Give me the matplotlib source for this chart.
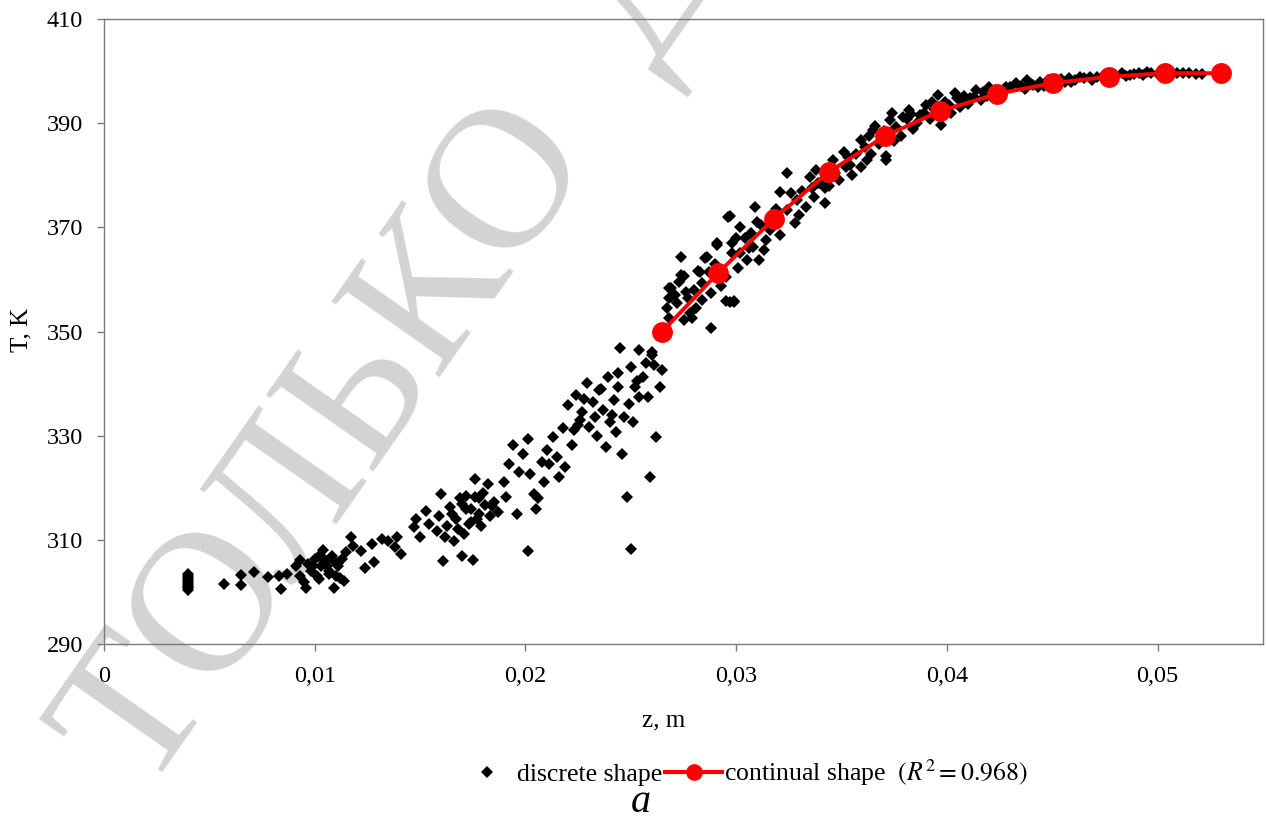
import matplotlib
matplotlib.use("Agg")
import matplotlib.pyplot as plt
from matplotlib.lines import Line2D
from matplotlib.ticker import FuncFormatter, MultipleLocator

plt.rcParams['font.family'] = ['Liberation Serif', 'DejaVu Serif']
plt.rcParams['mathtext.fontset'] = 'stix'

# discrete shape (z, m ; T, K)
z_disc = [
    0.0040, 0.0040, 0.0040, 0.0040, 0.0040, 0.0040, 0.0040, 0.0040, 0.0040, 0.0040,
    0.0057, 0.0065, 0.0065, 0.0071, 0.0078, 0.0083, 0.0084, 0.0087, 0.0096,
    0.0091, 0.0093, 0.0097, 0.0098, 0.0100, 0.0101, 0.0103, 0.0104, 0.0105, 0.0107,
    0.0108, 0.0109, 0.0110, 0.0111, 0.0113, 0.0114, 0.0093, 0.0099, 0.0102, 0.0112,
    0.0115, 0.0117, 0.0118, 0.0122, 0.0124, 0.0127, 0.0128, 0.0132, 0.0135, 0.0138,
    0.0141, 0.0139, 0.0147, 0.0148, 0.0150, 0.0153, 0.0154, 0.0158, 0.0159, 0.0160,
    0.0161, 0.0163, 0.0164, 0.0166, 0.0167, 0.0169, 0.0170, 0.0171, 0.0172, 0.0173,
    0.0175, 0.0176, 0.0176, 0.0178, 0.0179, 0.0181, 0.0182, 0.0183, 0.0185, 0.0187,
    0.0190, 0.0191, 0.0192, 0.0194, 0.0196, 0.0197, 0.0199, 0.0201, 0.0201, 0.0202,
    0.0204, 0.0205, 0.0206, 0.0208, 0.0209, 0.0210, 0.0213, 0.0215, 0.0216, 0.0218,
    0.0219, 0.0220, 0.0222, 0.0224, 0.0225, 0.0227, 0.0229, 0.0230, 0.0232, 0.0233,
    0.0235, 0.0237, 0.0238, 0.0239, 0.0240, 0.0242, 0.0243, 0.0244, 0.0245, 0.0246,
    0.0247, 0.0248, 0.0250, 0.0250, 0.0251, 0.0252, 0.0254, 0.0254, 0.0256, 0.0258,
    0.0259, 0.0260, 0.0261, 0.0262, 0.0264, 0.0265,
    0.0268, 0.0268, 0.0269, 0.0272, 0.0274, 0.0275, 0.0277, 0.0279, 0.0281, 0.0282,
    0.0284, 0.0285, 0.0288, 0.0288, 0.0291, 0.0293, 0.0295, 0.0297, 0.0298, 0.0299,
    0.0300, 0.0301,
    0.0274, 0.0268, 0.0269, 0.0267, 0.0275, 0.0260, 0.0286, 0.0291, 0.0283, 0.0296,
    0.0302, 0.0309, 0.0310, 0.0298, 0.0302, 0.0305, 0.0311, 0.0308, 0.0295, 0.0297,
    0.0299, 0.0284, 0.0278, 0.0276, 0.0314, 0.0313, 0.0321, 0.0324, 0.0321, 0.0324,
    0.0329, 0.0330, 0.0328, 0.0333, 0.0335, 0.0337, 0.0342, 0.0342, 0.0340, 0.0349,
    0.0355, 0.0359, 0.0354, 0.0371,
    0.0316, 0.0318, 0.0326, 0.0331, 0.0338, 0.0344, 0.0346, 0.0347, 0.0351, 0.0352,
    0.0357, 0.0361, 0.0363, 0.0364, 0.0366,
    0.0359, 0.0362, 0.0365, 0.0371, 0.0373, 0.0374, 0.0379, 0.0382, 0.0386, 0.0389,
    0.0396, 0.0397, 0.0401, 0.0404, 0.0406, 0.0411, 0.0414, 0.0416, 0.0420, 0.0428,
    0.0433, 0.0438, 0.0441, 0.0444, 0.0458, 0.0463, 0.0468, 0.0469, 0.0483, 0.0487,
    0.0491, 0.0495, 0.0509, 0.0512, 0.0515,
    0.0368, 0.0370, 0.0376, 0.0378, 0.0381, 0.0384, 0.0387, 0.0390, 0.0392, 0.0394,
    0.0399, 0.0402, 0.0405, 0.0408, 0.0410, 0.0413, 0.0417, 0.0419, 0.0423, 0.0425,
    0.0427, 0.0430, 0.0435, 0.0437, 0.0440, 0.0446, 0.0448, 0.0451, 0.0454, 0.0456,
    0.0461, 0.0465, 0.0471, 0.0474, 0.0478, 0.0480, 0.0485, 0.0489, 0.0493, 0.0497,
    0.0500, 0.0503, 0.0506, 0.0518, 0.0521,
    # extra points in the dense parts of the cloud
    0.0095, 0.0102, 0.0106, 0.0109, 0.0165, 0.0168, 0.0172, 0.0174, 0.0177, 0.0180,
    0.0223, 0.0228, 0.0234, 0.0241, 0.0249, 0.0253, 0.0271, 0.0280, 0.0290, 0.0304,
    0.0307, 0.0319, 0.0336, 0.0353, 0.0383, 0.0393, 0.0407, 0.0421, 0.0443, 0.0459,
    0.0104, 0.0107, 0.0111, 0.0162, 0.0170, 0.0174, 0.0178, 0.0184, 0.0211, 0.0226,
    0.0236, 0.0244, 0.0257, 0.0273, 0.0287, 0.0306, 0.0312, 0.0339, 0.0375, 0.0398,
]
T_disc = [
    300.3, 300.7, 301.1, 301.5, 301.9, 302.3, 302.7, 303.1, 303.5, 300.9,
    301.6, 303.3, 301.3, 303.8, 302.8, 303.0, 300.5, 303.5, 300.7,
    304.9, 306.1, 305.4, 304.0, 306.4, 303.0, 304.9, 308.0, 305.9, 304.0,
    306.9, 300.7, 303.0, 304.9, 306.4, 302.1, 303.0, 304.9, 306.9, 302.6,
    307.6, 310.6, 308.9, 307.8, 304.6, 309.2, 305.7, 310.2, 309.7, 308.6,
    307.3, 310.6, 312.4, 314.0, 310.6, 315.6, 313.1, 311.6, 314.5, 318.8,
    305.9, 312.6, 316.4, 309.7, 314.0, 318.0, 306.9, 311.1, 315.9, 313.1,
    306.1, 321.6, 318.3, 315.0, 312.6, 316.6, 320.7, 314.5, 317.3, 315.4,
    321.2, 318.3, 324.5, 328.3, 315.0, 323.1, 326.4, 307.8, 329.3, 322.6,
    318.8, 315.9, 318.0, 325.0, 321.2, 327.3, 329.7, 325.9, 322.1, 331.5,
    324.0, 335.9, 328.3, 337.8, 332.1, 334.5, 340.2, 331.6, 336.4, 333.5,
    338.8, 335.0, 327.8, 341.2, 332.6, 336.9, 330.7, 339.3, 346.9, 326.4,
    333.5, 318.3, 308.3, 343.1, 332.6, 339.3, 346.4, 337.4, 341.2, 337.4,
    322.1, 345.5, 343.6, 329.7, 339.3, 342.6,
    352.6, 356.4, 358.3, 355.5, 364.3, 360.7, 356.4, 352.6, 354.5, 361.7,
    359.3, 364.1, 357.4, 350.7, 366.9, 358.8, 355.9, 372.2, 365.0, 355.9,
    367.9, 362.1,
    360.8, 358.3, 356.7, 354.5, 352.2, 346.0, 364.4, 366.6, 361.5, 372.0,
    370.1, 374.0, 371.1, 367.0, 365.1, 363.7, 363.7, 366.3, 360.5, 355.7,
    355.7, 356.0, 353.5, 357.6, 367.6, 365.6, 368.5, 373.3, 376.8, 380.4,
    375.2, 372.4, 370.8, 374.0, 379.7, 375.9, 374.6, 377.5, 378.5, 379.1,
    380.0, 381.6, 382.0, 382.9,
    369.5, 372.5, 376.5, 377.0, 381.0, 378.0, 383.0, 380.5, 384.5, 381.5,
    384.0, 385.5, 387.5, 384.0, 389.5,
    386.8, 382.9, 388.7, 383.6, 390.6, 392.0, 391.2, 392.5, 390.0, 392.0,
    395.4, 389.6, 393.5, 395.8, 393.2, 394.8, 396.4, 394.5, 397.0, 397.0,
    397.7, 398.3, 397.3, 398.0, 398.6, 398.9, 398.9, 398.3, 399.6, 399.2,
    399.6, 399.9, 399.6, 399.6, 399.6,
    386.0, 388.5, 389.3, 387.5, 390.8, 388.8, 391.5, 393.5, 390.8, 392.8,
    394.0, 392.0, 394.8, 395.2, 393.6, 395.0, 396.0, 395.3, 396.3, 395.2,
    396.6, 396.9, 397.2, 396.5, 397.6, 397.2, 398.2, 397.8, 398.4, 397.9,
    398.3, 398.6, 398.8, 399.1, 399.0, 399.3, 399.1, 399.5, 399.3, 399.6,
    399.4, 399.7, 399.5, 399.5, 399.4,
    302.0, 302.5, 305.0, 306.0, 315.0, 312.0, 318.5, 316.0, 314.0, 319.0,
    331.0, 337.0, 330.0, 334.0, 336.0, 340.5, 357.0, 358.0, 363.0, 368.0,
    369.0, 373.5, 377.5, 383.5, 391.8, 394.0, 394.2, 396.0, 397.0, 398.0,
    306.5, 303.5, 305.5, 310.5, 316.8, 313.5, 318.0, 316.5, 324.5, 333.0,
    339.0, 342.0, 344.0, 359.5, 361.5, 366.0, 370.5, 378.5, 386.5, 393.0,
]

# continual shape
z_cont = [0.02647, 0.02913, 0.03178, 0.03439, 0.03705, 0.03966,
          0.04236, 0.04502, 0.04768, 0.05033, 0.05299]
T_cont = [349.9, 361.2, 371.6, 380.6, 387.5, 392.3,
          395.6, 397.7, 398.9, 399.6, 399.6]

fig = plt.figure(figsize=(12.66, 8.32), dpi=100)
ax = fig.add_axes([104 / 1266, 1 - 644 / 832, (1263 - 104) / 1266, (644 - 19) / 832])
ax.set_facecolor('none')

# watermark behind the data
ax.text(0.315, 0.578, 'ТОЛЬКО  Д', transform=fig.transFigure, fontsize=145,
        color='#d3d3d3', rotation=55, rotation_mode='anchor',
        ha='center', va='center', zorder=0.5, clip_on=False,
        family=['Liberation Serif', 'DejaVu Serif'])

ax.plot(z_disc, T_disc, linestyle='none', marker='D', markersize=6.4,
        color='black', markeredgewidth=0, zorder=2)
ax.plot(z_cont, T_cont, color='#ff0000', linewidth=2.8, marker='o',
        markersize=15, markeredgewidth=0, zorder=3)

ax.set_xlim(0, 0.055)
ax.set_ylim(290, 410)
ax.xaxis.set_major_locator(MultipleLocator(0.01))
ax.set_yticks(range(290, 411, 20))
ax.xaxis.set_major_formatter(FuncFormatter(
    lambda v, p: '0' if abs(v) < 1e-9 else f'{v:.2f}'.replace('.', ',')))

for s in ax.spines.values():
    s.set_color('#7a7a7a')
    s.set_linewidth(1.0)
ax.tick_params(direction='out', length=5, width=1, color='#7a7a7a',
               labelsize=17.5)
ax.tick_params(axis='x', pad=11)
ax.tick_params(axis='y', pad=10)

ax.set_xlabel('z, m', fontsize=18)
ax.xaxis.set_label_coords(0.483, -0.105)
ax.set_ylabel('T, K', fontsize=18)
ax.yaxis.set_label_coords(-0.062, 0.502)

handles = [
    Line2D([], [], linestyle='none', marker='D', markersize=6.5, color='black',
           markeredgewidth=0),
    Line2D([], [], color='#ff0000', linewidth=3, marker='o', markersize=12,
           markeredgewidth=0),
]
labels = ['discrete shape', r'continual shape  $\left(R^2=0.968\right)$']
fig.legend(handles, labels, loc='center', bbox_to_anchor=(0.587, 0.071),
           ncol=2, frameon=False, fontsize=18.5, handlelength=2.2,
           handletextpad=0.1, columnspacing=0.1)

fig.text(0.506, 0.024, 'a', fontsize=29, style='italic', ha='center', va='baseline')

fig.savefig('out.png', dpi=100)
